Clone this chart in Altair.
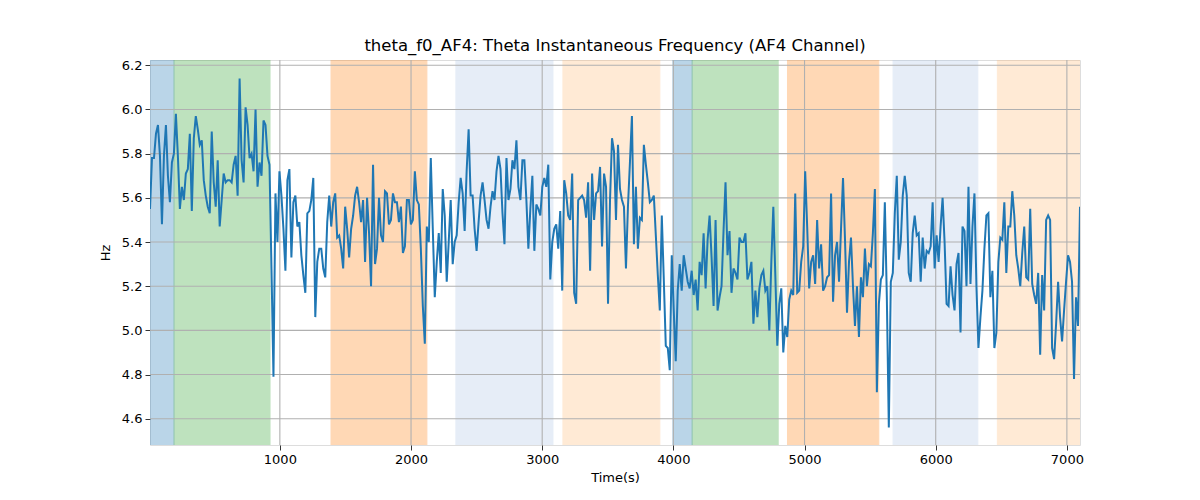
import altair as alt
import numpy as np
import pandas as pd

hz_values = [
    5.55, 5.78, 5.78, 5.89, 5.93, 5.79, 5.48, 5.79, 5.93, 5.70,
    5.58, 5.76, 5.80, 5.98, 5.79, 5.55, 5.65, 5.59, 5.71, 5.73,
    5.89, 5.54, 5.87, 5.97, 5.91, 5.84, 5.86, 5.68, 5.61, 5.56,
    5.53, 5.90, 5.67, 5.56, 5.77, 5.47, 5.59, 5.71, 5.67, 5.68,
    5.68, 5.67, 5.75, 5.79, 5.61, 6.14, 5.77, 5.67, 6.01, 5.93,
    5.78, 5.80, 5.72, 6.00, 5.65, 5.76, 5.70, 5.95, 5.93, 5.79,
    5.75, 5.28, 4.79, 5.62, 5.40, 5.72, 5.61, 5.46, 5.27, 5.68,
    5.73, 5.33, 5.58, 5.61, 5.47, 5.49, 5.34,
    5.25, 5.17, 5.53, 5.54, 5.59, 5.69, 5.06, 5.31, 5.37, 5.37,
    5.28, 5.24, 5.49, 5.61, 5.47, 5.58, 5.62, 5.42, 5.43, 5.37,
    5.28, 5.56, 5.46, 5.33, 5.46, 5.52, 5.61, 5.65, 5.58, 5.49,
    5.59, 5.31, 5.60, 5.44, 5.20, 5.75, 5.30, 5.37, 5.60, 5.43,
    5.40, 5.63, 5.62, 5.48, 5.50, 5.62, 5.58, 5.58, 5.49, 5.56,
    5.35, 5.38, 5.59, 5.59, 5.48, 5.50, 5.72, 5.59, 5.57, 5.37,
    5.11, 4.94, 5.47, 5.40, 5.78, 5.46, 5.15, 5.31, 5.44, 5.26,
    5.64, 5.52, 5.22, 5.40, 5.59, 5.30, 5.40,
    5.43, 5.58, 5.69, 5.62, 5.45, 5.72, 5.91, 5.61, 5.61, 5.46,
    5.36, 5.49, 5.61, 5.67, 5.59, 5.50, 5.46, 5.56, 5.63, 5.59,
    5.72, 5.79, 5.73, 5.53, 5.39, 5.78, 5.59, 5.64, 5.77, 5.73,
    5.86, 5.65, 5.59, 5.77, 5.77, 5.59, 5.37, 5.55, 5.70, 5.36,
    5.57, 5.55, 5.52, 5.65, 5.69, 5.65, 5.75, 5.23, 5.40, 5.46,
    5.48, 5.37, 5.54, 5.18, 5.68, 5.62, 5.52, 5.50, 5.71, 5.17,
    5.12, 5.59, 5.60, 5.61, 5.59, 5.51, 5.67, 5.27, 5.71, 5.50,
    5.62, 5.63, 5.74, 5.38, 5.71, 5.65, 5.12, 5.59, 5.87,
    5.81, 5.50, 5.84, 5.64, 5.59, 5.56, 5.28, 5.56, 5.76, 5.97,
    5.39, 5.65, 5.37, 5.51, 5.50, 5.84, 5.75, 5.67, 5.58, 5.59,
    5.61, 5.43, 5.25, 5.09, 5.52, 5.23, 4.93, 4.92, 4.82, 5.34,
    5.09, 4.86, 5.18, 5.30, 5.18, 5.34, 5.28, 5.22, 5.19, 5.27,
    5.16, 5.23, 5.09, 5.31, 5.25, 5.44, 5.19, 5.41, 5.52, 5.33,
    5.11, 5.50, 5.09, 5.15, 5.20, 5.45, 5.67, 5.34, 5.45, 5.17,
    5.28, 5.26, 5.23, 5.42, 5.40, 5.40, 5.44, 5.23, 5.26, 5.31,
    5.03, 5.18, 5.06, 5.19, 5.25, 5.27, 5.18,
    5.20, 5.00, 5.31, 5.56, 5.25, 4.93, 5.12, 5.19, 4.90, 5.02,
    4.97, 5.14, 5.18, 5.16, 5.62, 5.17, 5.18, 5.31, 5.38, 5.72,
    5.47, 5.19, 5.31, 5.34, 5.21, 5.50, 5.28, 5.39, 5.18, 5.20,
    5.24, 5.25, 5.62, 5.13, 5.34, 5.40, 5.22, 5.46, 5.69, 5.41,
    5.08, 5.31, 5.42, 5.20, 5.02, 5.20, 4.97, 5.24, 5.15, 5.37,
    5.20, 5.30, 5.29, 5.44, 5.64, 4.72, 5.12, 5.23, 5.25, 5.58,
    5.15, 4.56, 5.22, 5.26, 5.53, 5.70, 5.32, 5.40, 5.61, 5.70,
    5.61, 5.26, 5.22, 5.44, 5.52, 5.43, 5.44, 5.22, 5.42,
    5.28, 5.36, 5.35, 5.38, 5.58, 5.28, 5.43, 5.31, 5.47, 5.60,
    5.40, 5.12, 5.11, 5.29, 5.16, 5.09, 5.30, 5.35, 4.99, 5.47,
    5.45, 5.20, 5.65, 5.21, 5.47, 5.62, 5.20, 4.92, 5.06, 5.18,
    5.37, 5.52, 5.53, 5.15, 5.27, 4.92, 4.99, 5.31, 5.42, 5.41,
    5.58, 5.26, 5.47, 5.47, 5.63, 5.52, 5.34, 5.28, 5.20, 5.35,
    5.47, 5.24, 5.23, 5.55, 5.21, 5.16, 5.12, 5.26, 4.89, 5.25,
    5.09, 5.50, 5.52, 5.50, 4.92, 4.87, 5.03, 5.22, 5.06, 4.95,
    5.09, 5.22, 5.34, 5.31, 5.22, 4.78, 5.15, 5.02, 5.56,
]
t_first = 10
t_last = 7100

# shaded segments
span_start = [0, 193, 1390, 2342, 3158, 3996, 4143, 4870, 5675, 6470]
span_end = [193, 925, 2121, 3082, 3897, 4143, 4799, 5566, 6321, 7200]
span_color = ["#1f77b4", "#2ca02c", "#ff7f0e", "#aec7e8", "#ffbb78",
              "#1f77b4", "#2ca02c", "#ff7f0e", "#aec7e8", "#ffbb78"]

x_ticks = [1000, 2000, 3000, 4000, 5000, 6000, 7000]
y_ticks = [4.6, 4.8, 5.0, 5.2, 5.4, 5.6, 5.8, 6.0, 6.2]

W, H = 930, 385
FONT = "DejaVu Sans"

line_df = pd.DataFrame({"time": np.linspace(t_first, t_last, len(hz_values)), "hz": hz_values})
span_df = pd.DataFrame({"time": span_start, "time_end": span_end, "color": span_color})
xg_df = pd.DataFrame({"time": x_ticks})
yg_df = pd.DataFrame({"hz": y_ticks})

x_scale = alt.Scale(domain=[t_first, t_last], nice=False, zero=False)
y_scale = alt.Scale(domain=[4.481, 6.224], nice=False, zero=False)

x_axis = alt.Axis(title="Time(s)", values=x_ticks, format="d", grid=False, domain=False,
                  tickColor="black", tickSize=5, tickWidth=0.8, labelPadding=3,
                  labelFont=FONT, labelFontSize=13, labelColor="black",
                  titleFont=FONT, titleFontSize=13, titleFontWeight="normal",
                  titleColor="black", titlePadding=5, labelFlush=False)
y_axis = alt.Axis(title="Hz", values=y_ticks, format=".1f", grid=False, domain=False,
                  tickColor="black", tickSize=5, tickWidth=0.8, labelPadding=3,
                  labelFont=FONT, labelFontSize=13, labelColor="black",
                  titleFont=FONT, titleFontSize=13, titleFontWeight="normal",
                  titleColor="black", titlePadding=9, labelFlush=False)

spans = alt.Chart(span_df).mark_rect(clip=True, opacity=0.3, strokeWidth=1).encode(
    x=alt.X("time:Q", scale=x_scale, axis=x_axis),
    x2="time_end:Q",
    y=alt.value(0),
    y2=alt.value(H),
    color=alt.Color("color:N", scale=None),
    stroke=alt.Color("color:N", scale=None),
)

xgrid = alt.Chart(xg_df).mark_rule(color="#b0b0b0", strokeWidth=1.1).encode(
    x=alt.X("time:Q", scale=x_scale, axis=x_axis),
    y=alt.value(0),
    y2=alt.value(H),
)
ygrid = alt.Chart(yg_df).mark_rule(color="#b0b0b0", strokeWidth=1.1).encode(
    y=alt.Y("hz:Q", scale=y_scale, axis=y_axis),
    x=alt.value(0),
    x2=alt.value(W),
)

line = alt.Chart(line_df).mark_line(color="#1f77b4", strokeWidth=2, clip=True).encode(
    x=alt.X("time:Q", scale=x_scale, axis=x_axis),
    y=alt.Y("hz:Q", scale=y_scale, axis=y_axis),
)

chart = alt.layer(spans, xgrid, ygrid, line).properties(
    width=W,
    height=H,
    title=alt.TitleParams("theta_f0_AF4: Theta Instantaneous Frequency (AF4 Channel)",
                          font=FONT, fontSize=16.5, fontWeight="normal", color="black",
                          anchor="middle", offset=5),
    autosize=alt.AutoSizeParams(type="none"),
    padding={"left": 142, "top": 52, "right": 100, "bottom": 40},
).configure_view(stroke="black", strokeWidth=1).configure(background="white")

chart.save("out.html", embed_options={"renderer": "svg", "actions": False})
